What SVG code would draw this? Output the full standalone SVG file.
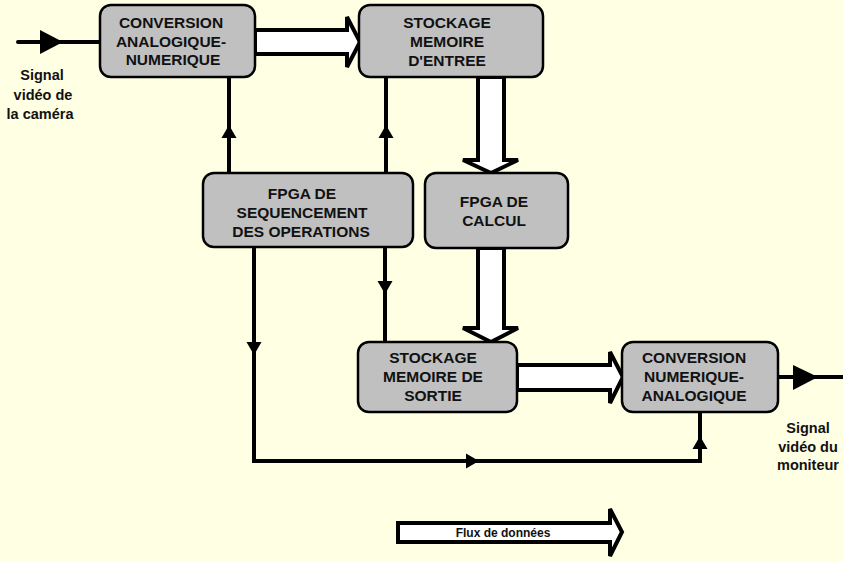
<svg xmlns="http://www.w3.org/2000/svg" width="843" height="561" viewBox="0 0 843 561">
<style>
.bg{fill:#FFFFE3}
.box{fill:#C0C0C0;stroke:#000;stroke-width:2.5}
.t{font-family:"Liberation Sans",Arial,sans-serif;font-weight:bold;font-size:15.5px;fill:#111;text-anchor:middle}
.lbl{font-family:"Liberation Sans",Arial,sans-serif;font-weight:bold;font-size:14.5px;fill:#111;text-anchor:middle}
.leg{font-family:"Liberation Sans",Arial,sans-serif;font-weight:bold;font-size:12px;fill:#111;text-anchor:middle}
.ln{fill:none;stroke:#000;stroke-width:4}
.ah{fill:#000;stroke:none}
.fat{fill:#fff;stroke:#000;stroke-width:4;stroke-linejoin:miter}
</style>
<rect class="bg" x="0" y="0" width="843" height="561"/>
<g id="connectors">
  <line class="ln" x1="18" y1="42" x2="100" y2="42" stroke-linecap="round"/>
  <polygon class="ah" points="63,42 40,30 40,54"/>
  <line class="ln" x1="778" y1="377" x2="843" y2="377"/>
  <polygon class="ah" points="818,377 793,365 793,390"/>
  <line class="ln" x1="229" y1="173" x2="229" y2="77"/>
  <polygon class="ah" points="229,125 221.5,138 236.5,138"/>
  <line class="ln" x1="386" y1="173" x2="386" y2="77"/>
  <polygon class="ah" points="386,125 378.5,138 393.5,138"/>
  <line class="ln" x1="385" y1="247" x2="385" y2="342"/>
  <polygon class="ah" points="385,294 377.5,281 392.5,281"/>
  <polyline class="ln" points="254,247 254,461 700,461 700,412"/>
  <polygon class="ah" points="254,355 246.5,342 261.5,342"/>
  <polygon class="ah" points="479,461 466,453.5 466,468.5"/>
  <polygon class="ah" points="700,436 692.5,449 707.5,449"/>
  <polygon class="fat" points="255,30 347,30 347,17 360,42 347,67 347,54 255,54"/>
  <polygon class="fat" points="478,77 478,160 463,160 491,173 518,160 504,160 504,77"/>
  <polygon class="fat" points="478,248 478,328 463,328 491,342 518,328 504,328 504,248"/>
  <polygon class="fat" points="517,365 610,365 610,352 623,377 610,403 610,390 517,390"/>
</g>
<g id="n_can">
  <rect class="box" x="100" y="5" width="155" height="72" rx="11"/>
  <text class="t" x="171" y="28">CONVERSION</text>
  <text class="t" x="171" y="47">ANALOGIQUE-</text>
  <text class="t" x="173" y="65">NUMERIQUE</text>
</g>
<g id="n_mem_in">
  <rect class="box" x="359" y="5" width="184" height="72" rx="11"/>
  <text class="t" x="447" y="28">STOCKAGE</text>
  <text class="t" x="447" y="47">MEMOIRE</text>
  <text class="t" x="447" y="66">D'ENTREE</text>
</g>
<g id="n_seq">
  <rect class="box" x="203" y="173" width="210" height="74" rx="11"/>
  <text class="t" x="302" y="199">FPGA DE</text>
  <text class="t" x="302" y="218">SEQUENCEMENT</text>
  <text class="t" x="301" y="237">DES OPERATIONS</text>
</g>
<g id="n_calc">
  <rect class="box" x="425" y="173" width="143" height="75" rx="11"/>
  <text class="t" x="494" y="207">FPGA DE</text>
  <text class="t" x="494" y="226">CALCUL</text>
</g>
<g id="n_mem_out">
  <rect class="box" x="358" y="342" width="159" height="70" rx="11"/>
  <text class="t" x="433" y="363">STOCKAGE</text>
  <text class="t" x="433" y="382">MEMOIRE DE</text>
  <text class="t" x="433" y="401">SORTIE</text>
</g>
<g id="n_cna">
  <rect class="box" x="622" y="342" width="156" height="70" rx="11"/>
  <text class="t" x="694" y="363">CONVERSION</text>
  <text class="t" x="694" y="382">NUMERIQUE-</text>
  <text class="t" x="694" y="401">ANALOGIQUE</text>
</g>
<g id="lbl_in">
  <text class="lbl" x="42" y="80">Signal</text>
  <text class="lbl" x="43" y="100">vidéo de</text>
  <text class="lbl" x="40" y="119">la caméra</text>
</g>
<g id="lbl_out">
  <text class="lbl" x="808" y="433">Signal</text>
  <text class="lbl" x="808" y="452">vidéo du</text>
  <text class="lbl" x="808" y="470">moniteur</text>
</g>
<g id="legend">
  <polygon class="fat" stroke-width="3.5" points="398,523 610,523 610,509 622,532 610,556 610,542 398,542"/>
  <text class="leg" x="503" y="537">Flux de données</text>
</g>
</svg>
